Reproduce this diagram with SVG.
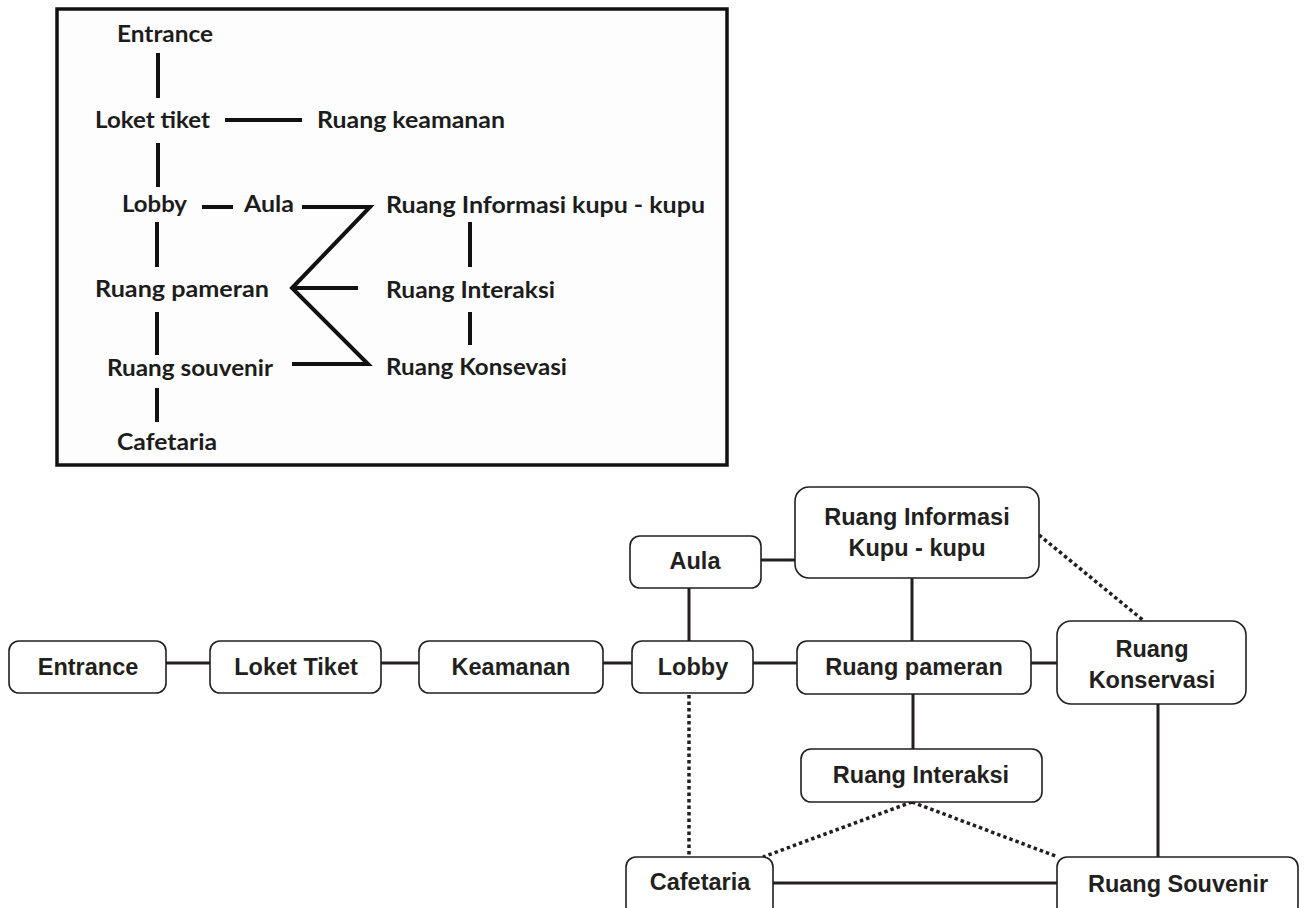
<svg xmlns="http://www.w3.org/2000/svg" width="1305" height="908" viewBox="0 0 1305 908">
  <style>
    .sk { font-family: Lato, "Open Sans", "Liberation Sans", sans-serif; font-weight: 700; font-size: 22.5px; fill: #1c1c1c; }
    .skl { stroke: #111; stroke-width: 4; fill: none; stroke-linejoin: miter; }
    .box { fill: #fff; stroke: #231f20; stroke-width: 1.6; }
    .lbl { font-family: "Liberation Sans", Arial, sans-serif; font-weight: 700; font-size: 23.5px; fill: #231f20; text-anchor: middle; }
    .ln { stroke: #231f20; stroke-width: 3; fill: none; }
    .dot { stroke: #231f20; stroke-width: 3.5; fill: none; stroke-dasharray: 3.5 3; }
  </style>
  <rect width="1305" height="908" fill="#fff"/>

  <!-- sketch of the room sequence -->
  <g id="sketch">
    <rect x="57" y="9" width="670" height="456" fill="#fdfdfd" stroke="#111" stroke-width="3.5"/>
    <text class="sk" x="117" y="42" textLength="96" lengthAdjust="spacingAndGlyphs">Entrance</text>
    <text class="sk" x="95" y="128" textLength="115" lengthAdjust="spacingAndGlyphs">Loket tiket</text>
    <text class="sk" x="317" y="128" textLength="188" lengthAdjust="spacingAndGlyphs">Ruang keamanan</text>
    <text class="sk" x="122" y="212" textLength="65" lengthAdjust="spacingAndGlyphs">Lobby</text>
    <text class="sk" x="244" y="212" textLength="50" lengthAdjust="spacingAndGlyphs">Aula</text>
    <text class="sk" x="386" y="213" textLength="319" lengthAdjust="spacingAndGlyphs">Ruang Informasi kupu - kupu</text>
    <text class="sk" x="95" y="297" textLength="174" lengthAdjust="spacingAndGlyphs">Ruang pameran</text>
    <text class="sk" x="386" y="298" textLength="169" lengthAdjust="spacingAndGlyphs">Ruang Interaksi</text>
    <text class="sk" x="107" y="376" textLength="166" lengthAdjust="spacingAndGlyphs">Ruang souvenir</text>
    <text class="sk" x="386" y="375" textLength="181" lengthAdjust="spacingAndGlyphs">Ruang Konsevasi</text>
    <text class="sk" x="117" y="450" textLength="100" lengthAdjust="spacingAndGlyphs">Cafetaria</text>
    <path class="skl" d="M158,53 V98 M158,143 V187 M157,222 V267 M157,312 V355 M157,388 V422
                         M225,120 H302 M202,207 H233
                         M302,207 H370 L292,288 L368,364 H292 M292,288 H358
                         M470,222 V267 M470,312 V345"/>
  </g>

  <!-- connectors -->
  <g id="connectors">
    <path class="ln" d="M166,663 H210 M381,663 H419 M603,663 H632 M753,663 H797 M1031,663 H1058
                        M689,588 V641 M761,560 H795 M912,578 V641 M913,694 V750
                        M1158,704 V857 M773,883 H1057"/>
    <path class="dot" d="M689,695 V857"/>
    <path class="dot" d="M912,802 L763,857"/>
    <path class="dot" d="M912,802 L1058,857"/>
    <path class="dot" d="M1039,535 L1144,621"/>
  </g>

  <g id="entrance">
    <rect class="box" x="9" y="641" width="157" height="52" rx="10"/>
    <text class="lbl" x="88" y="675">Entrance</text>
  </g>
  <g id="loket-tiket">
    <rect class="box" x="210" y="641" width="171" height="52" rx="10"/>
    <text class="lbl" x="296" y="675">Loket Tiket</text>
  </g>
  <g id="keamanan">
    <rect class="box" x="419" y="641" width="184" height="52" rx="10"/>
    <text class="lbl" x="511" y="675">Keamanan</text>
  </g>
  <g id="lobby">
    <rect class="box" x="632" y="641" width="121" height="52" rx="10"/>
    <text class="lbl" x="693" y="675">Lobby</text>
  </g>
  <g id="aula">
    <rect class="box" x="630" y="536" width="131" height="52" rx="10"/>
    <text class="lbl" x="695" y="569">Aula</text>
  </g>
  <g id="ruang-informasi">
    <rect class="box" x="795" y="487" width="244" height="91" rx="14"/>
    <text class="lbl" x="917" y="525">Ruang Informasi</text>
    <text class="lbl" x="917" y="556">Kupu - kupu</text>
  </g>
  <g id="ruang-pameran">
    <rect class="box" x="797" y="641" width="234" height="53" rx="10"/>
    <text class="lbl" x="914" y="675">Ruang pameran</text>
  </g>
  <g id="ruang-konservasi">
    <rect class="box" x="1057" y="621" width="189" height="83" rx="14"/>
    <text class="lbl" x="1152" y="657">Ruang</text>
    <text class="lbl" x="1152" y="688">Konservasi</text>
  </g>
  <g id="ruang-interaksi">
    <rect class="box" x="801" y="749" width="241" height="53" rx="10"/>
    <text class="lbl" x="921" y="783">Ruang Interaksi</text>
  </g>
  <g id="cafetaria">
    <rect class="box" x="626" y="857" width="147" height="60" rx="10"/>
    <text class="lbl" x="700" y="890">Cafetaria</text>
  </g>
  <g id="ruang-souvenir">
    <rect class="box" x="1057" y="857" width="241" height="60" rx="10"/>
    <text class="lbl" x="1178" y="892">Ruang Souvenir</text>
  </g>
</svg>
